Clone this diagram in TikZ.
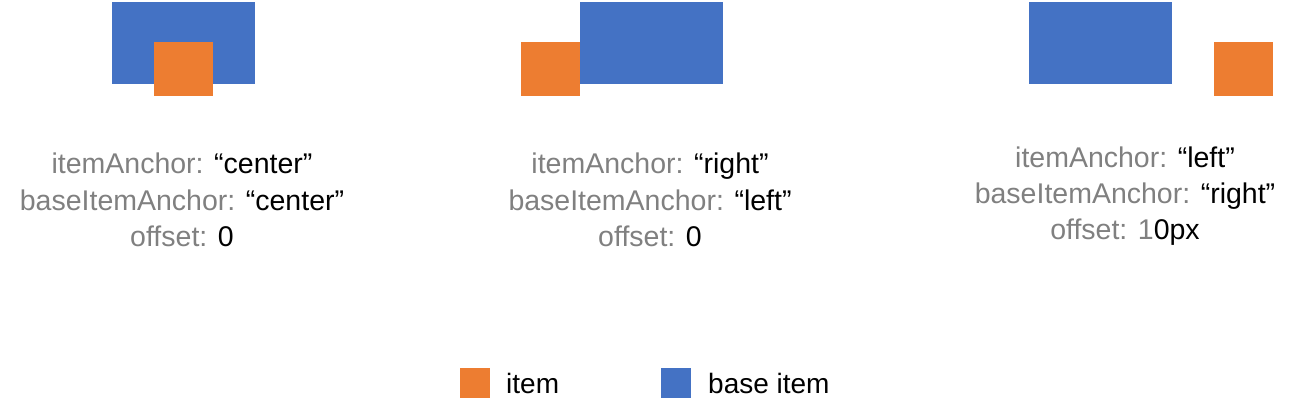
\documentclass[tikz,border=0pt]{standalone}
\usepackage{fontspec}
\setmainfont{Liberation Sans}
\definecolor{baseblue}{HTML}{4472C4}
\definecolor{itemorange}{HTML}{ED7D31}
\definecolor{keygray}{HTML}{808080}
\newcommand{\val}[1]{\textcolor{black}{#1}}
\begin{document}
\begin{tikzpicture}[x=1pt,y=-1pt,
  lbl/.style={anchor=base,text=keygray,inner sep=0pt,font=\fontsize{28.5}{34}\selectfont},
  leg/.style={anchor=base west,inner sep=0pt,font=\fontsize{28}{34}\selectfont}]
\useasboundingbox (0,0) rectangle (1295,418);
% center / center
\fill[baseblue] (112,2) rectangle (255,84);
\fill[itemorange] (154,42) rectangle (213,96);
\node[lbl] (ia1) at (182,173) {itemAnchor: \val{“center”}};
\node[lbl] (ba1) at (182,210) {baseItemAnchor: \val{“center”}};
\node[lbl] (of1) at (182,246) {offset: \val{0}};
% right / left
\fill[baseblue] (580,2) rectangle (723,84);
\fill[itemorange] (521,42) rectangle (580,96);
\node[lbl] (ia2) at (650,173) {itemAnchor: \val{“right”}};
\node[lbl] (ba2) at (650,210) {baseItemAnchor: \val{“left”}};
\node[lbl] (of2) at (650,246) {offset: \val{0}};
% left / right, 10px
\fill[baseblue] (1029,2) rectangle (1172,84);
\fill[itemorange] (1214,42) rectangle (1273,96);
\node[lbl] (ia3) at (1125,167) {itemAnchor: \val{“left”}};
\node[lbl] (ba3) at (1125,203) {baseItemAnchor: \val{“right”}};
\node[lbl] (of3) at (1125,239) {offset: 1\val{0px}};
%%%%
\fill[itemorange] (460,368) rectangle (490,398);
\node[leg] (item) at (506,393) {item};
\fill[baseblue] (661,368) rectangle (691,398);
\node[leg] (base) at (708,393) {base item};
\end{tikzpicture}
\end{document}
